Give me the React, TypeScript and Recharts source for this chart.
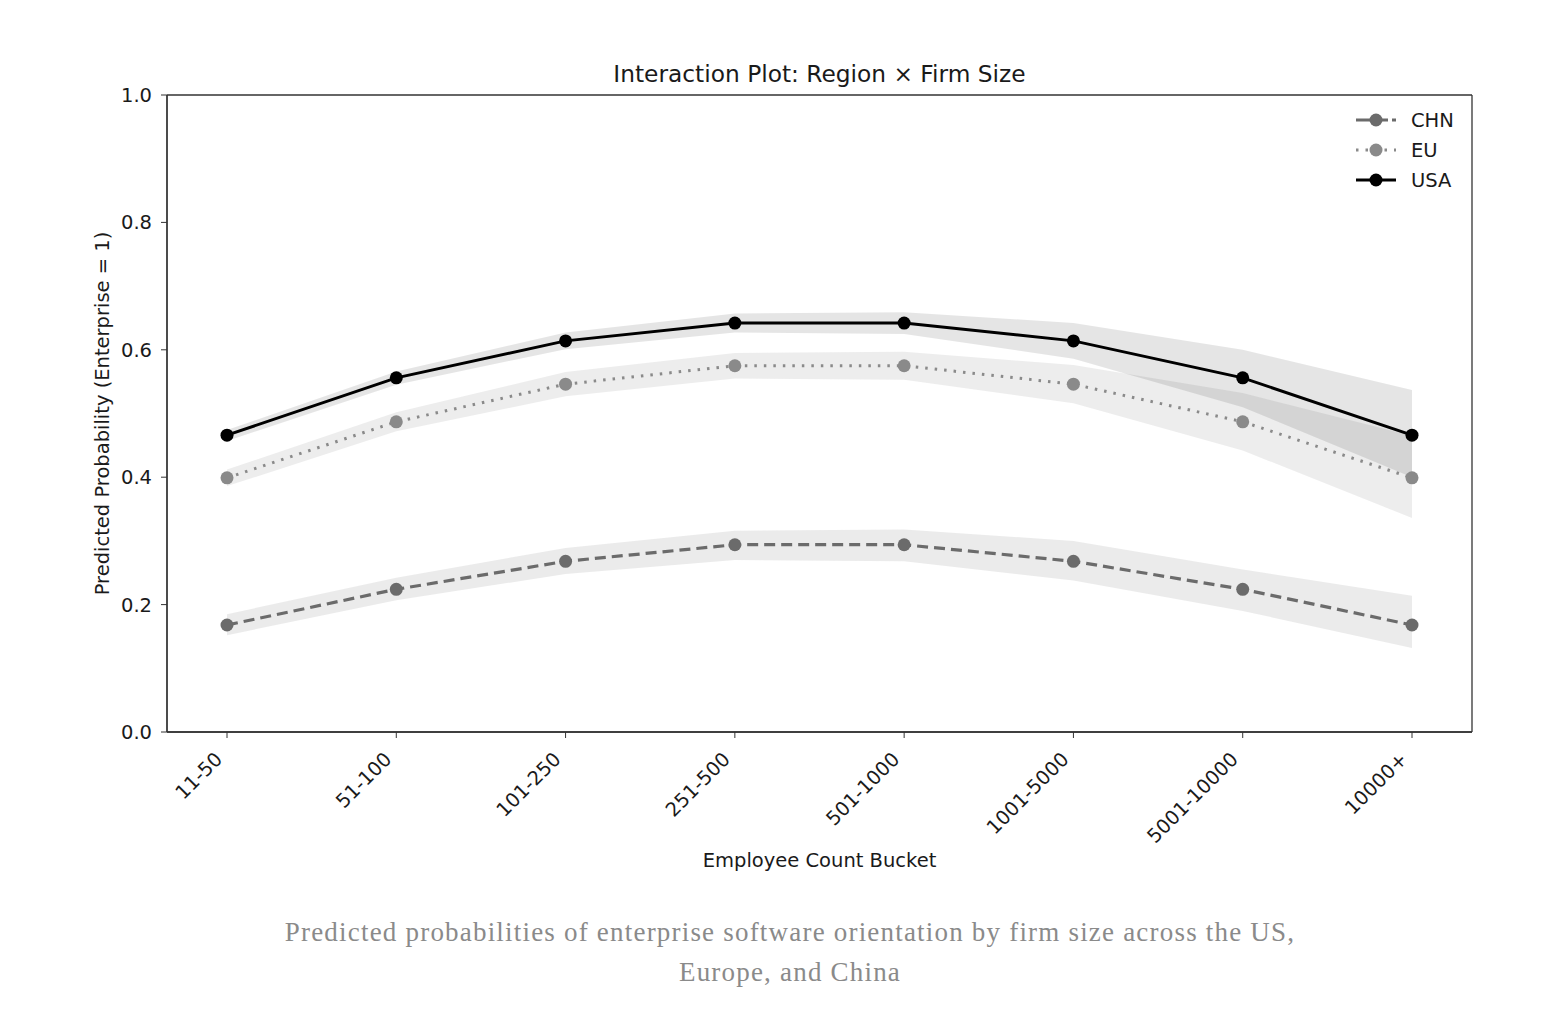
import { ComposedChart, Line, Area, XAxis, YAxis, Legend, ReferenceArea, CartesianGrid } from 'recharts'

const categories = ['11-50', '51-100', '101-250', '251-500', '501-1000', '1001-5000', '5001-10000', '10000+']

const usa = [0.466, 0.556, 0.614, 0.642, 0.642, 0.614, 0.556, 0.466]
const usaLow = [0.457, 0.545, 0.601, 0.627, 0.625, 0.586, 0.51, 0.4]
const usaHigh = [0.474, 0.566, 0.627, 0.657, 0.659, 0.642, 0.6, 0.537]

const eu = [0.399, 0.487, 0.546, 0.575, 0.575, 0.546, 0.487, 0.399]
const euLow = [0.386, 0.472, 0.527, 0.555, 0.553, 0.516, 0.442, 0.336]
const euHigh = [0.412, 0.502, 0.565, 0.595, 0.597, 0.576, 0.532, 0.465]

const chn = [0.168, 0.224, 0.268, 0.294, 0.294, 0.268, 0.224, 0.168]
const chnLow = [0.152, 0.207, 0.248, 0.27, 0.268, 0.238, 0.19, 0.132]
const chnHigh = [0.185, 0.242, 0.289, 0.316, 0.318, 0.3, 0.255, 0.214]

const yTicks = [0, 0.2, 0.4, 0.6, 0.8, 1.0]

const data = categories.map((c, i) => ({
  category: c,
  usa: usa[i],
  usaBand: [usaLow[i], usaHigh[i]],
  eu: eu[i],
  euBand: [euLow[i], euHigh[i]],
  chn: chn[i],
  chnBand: [chnLow[i], chnHigh[i]],
}))

const FONT = '"DejaVu Sans", sans-serif'
const TEXT = '#1a1a1a'

const series = [
  { key: 'chn', name: 'CHN', color: '#6b6b6b', dash: '11 6', width: 3.2, band: '#666666', bandOpacity: 0.13 },
  { key: 'eu', name: 'EU', color: '#8a8a8a', dash: '2.5 7', width: 3, band: '#888888', bandOpacity: 0.15 },
  { key: 'usa', name: 'USA', color: '#000000', dash: undefined, width: 3, band: '#000000', bandOpacity: 0.1 },
]

const XTick = ({ x, y, payload }: any) => (
  <g transform={`translate(${x - 12},${y + 7})`}>
    <text x={-2} y={0} dy="0.72em" textAnchor="end" transform="rotate(-45)" fontSize={19.5} fontFamily={FONT} fill={TEXT}>
      {payload.value}
    </text>
  </g>
)

const renderLegend = () => (
  <svg width={140} height={90}>
    {series.map((s, i) => {
      const y = 14 + i * 30
      return (
        <g key={s.key}>
          <line
            x1={8}
            x2={48}
            y1={y}
            y2={y}
            stroke={s.color}
            strokeWidth={s.width}
            strokeDasharray={s.key === 'chn' ? '14 4' : s.dash}
          />
          <circle cx={28} cy={y} r={6.5} fill={s.color} />
          <text x={63} y={y} dominantBaseline="central" fontSize={19.5} fontFamily={FONT} fill={TEXT}>
            {s.name}
          </text>
        </g>
      )
    })}
  </svg>
)

// frame (matplotlib spines) drawn as grid lines on the plot-area edges
const frameRows = ({ offset }: any) => [offset.top, offset.top + offset.height]
const frameCols = ({ offset }: any) => [offset.left, offset.left + offset.width]

export default function App() {
  return (
    <div style={{ width: 1540 }}>
      <ComposedChart width={1540} height={880} data={data} margin={{ top: 87, right: 76, bottom: 16, left: 99 }}>
        <CartesianGrid
          stroke="#333"
          strokeWidth={1.3}
          horizontalCoordinatesGenerator={frameRows}
          verticalCoordinatesGenerator={frameCols}
        />
        <XAxis
          dataKey="category"
          padding={{ left: 60, right: 60 }}
          height={140}
          tick={<XTick />}
          tickSize={6}
          tickMargin={4}
          interval={0}
          axisLine={{ stroke: '#333', strokeWidth: 1.3 }}
          tickLine={{ stroke: '#333' }}
          label={(props: any) => {
            const vb = props.viewBox
            return (
              <text
                x={vb.x + vb.width / 2}
                y={vb.y + 128}
                textAnchor="middle"
                dominantBaseline="central"
                fontSize={19.5}
                fontFamily={FONT}
                fill={TEXT}
              >
                Employee Count Bucket
              </text>
            )
          }}
        />
        <YAxis
          domain={[0, 1]}
          ticks={yTicks}
          width={60}
          tickFormatter={(v: number) => v.toFixed(1)}
          tick={{ fontSize: 19.5, fontFamily: FONT, fill: TEXT }}
          tickSize={6}
          tickMargin={9}
          axisLine={{ stroke: '#333', strokeWidth: 1.3 }}
          tickLine={{ stroke: '#333' }}
          label={(props: any) => {
            const vb = props.viewBox
            const cx = vb.x + vb.width - 65
            const cy = vb.y + vb.height / 2
            return (
              <text
                x={cx}
                y={cy}
                transform={`rotate(-90, ${cx}, ${cy})`}
                textAnchor="middle"
                dominantBaseline="central"
                fontSize={19.5}
                fontFamily={FONT}
                fill={TEXT}
              >
                Predicted Probability (Enterprise = 1)
              </text>
            )
          }}
        />
        {series.map((s) => (
          <Area
            key={s.key + 'Band'}
            type="linear"
            dataKey={s.key + 'Band'}
            stroke="none"
            fill={s.band}
            fillOpacity={s.bandOpacity}
            isAnimationActive={false}
            activeDot={false}
            legendType="none"
          />
        ))}
        {series.map((s) => (
          <Line
            key={s.key}
            type="linear"
            dataKey={s.key}
            name={s.name}
            stroke={s.color}
            strokeWidth={s.width}
            strokeDasharray={s.dash}
            dot={{ r: 6.5, fill: s.color, stroke: 'none' }}
            activeDot={false}
            isAnimationActive={false}
          />
        ))}
        <ReferenceArea
          y1={0}
          y2={1}
          fill="none"
          stroke="none"
          label={(props: any) => {
            const vb = props.viewBox
            return (
              <text
                x={vb.x + vb.width / 2}
                y={vb.y - 22}
                textAnchor="middle"
                dominantBaseline="central"
                fontSize={23.3}
                fontFamily={FONT}
                fill={TEXT}
              >
                Interaction Plot: Region × Firm Size
              </text>
            )
          }}
        />
        <Legend
          layout="horizontal"
          verticalAlign="middle"
          align="center"
          wrapperStyle={{ position: 'absolute', left: 1340, top: 98, width: 125, height: 90 }}
          content={renderLegend}
        />
      </ComposedChart>
      <div
        style={{
          marginTop: 24,
          paddingLeft: 24,
          textAlign: 'center',
          fontFamily: '"Liberation Serif", serif',
          fontSize: 27,
          letterSpacing: 1.2,
          lineHeight: '40px',
          color: '#8a8a8a',
        }}
      >
        Predicted probabilities of enterprise software orientation by firm size across the US,
        <br />
        Europe, and China
      </div>
    </div>
  )
}
